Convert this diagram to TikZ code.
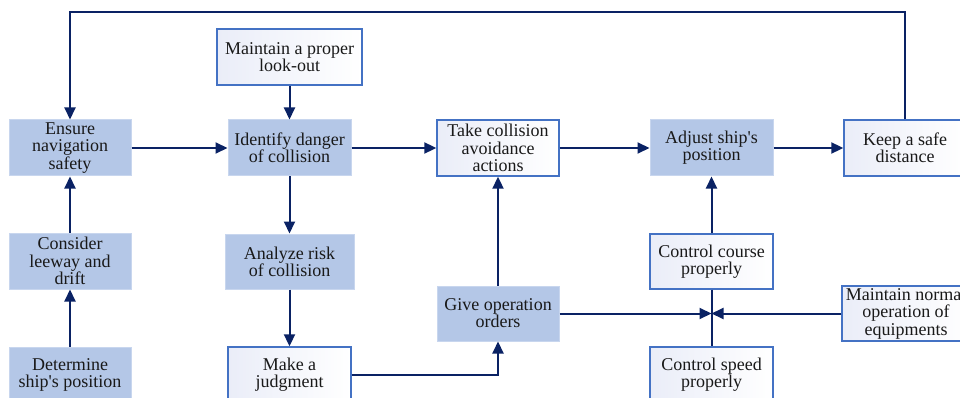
\documentclass[tikz,border=0pt]{standalone}
\usepackage{fontspec}
\newfontfamily\myserif{Liberation Serif}
\usetikzlibrary{arrows.meta}
\definecolor{boxfill}{RGB}{180,199,231}
\definecolor{boxedge}{RGB}{200,214,238}
\definecolor{wedge}{RGB}{68,114,196}
\definecolor{wshade}{RGB}{234,237,248}
\definecolor{navy}{RGB}{10,34,100}
\tikzset{
  base/.style={inner sep=0pt, align=center, minimum height=56pt,
    font=\myserif\fontsize{18}{17.2}\selectfont, text=black!90},
  filledbox/.style={base, draw=boxedge, line width=1pt, fill=boxfill},
  whitebox/.style={base, draw=wedge, line width=1.4pt, left color=wshade, right color=white},
  arr/.style={draw=navy, line width=2pt, -{Triangle[length=12pt,width=11pt]}},
  ln/.style={draw=navy, line width=2pt},
}
\begin{document}
\begin{tikzpicture}[x=1pt,y=-1pt]
\useasboundingbox (0,0) rectangle (960,398);
\clip (0,0) rectangle (960,398);
\fill[white] (0,0) rectangle (960,398);
\coordinate (top) at (0,12);
% left column
\node[filledbox, minimum width=122pt] (ensure) at (70,148) {Ensure\\navigation\\safety};
\node[filledbox, minimum width=122pt] (consider) at (70,261) {Consider\\leeway and\\drift};
\node[filledbox, minimum width=122pt] (determine) at (70,375) {Determine\\ship's position};
% second column
\node[whitebox, minimum width=145pt] (lookout) at (289.5,57) {Maintain a proper\\look-out};
\node[filledbox, minimum width=123pt] (identify) at (289.5,148) {Identify danger\\of collision};
\node[filledbox, minimum width=129pt, minimum height=55pt] (analyze) at (289.5,261.5) {Analyze risk\\of collision};
\node[whitebox, minimum width=123pt] (judgment) at (289.5,375) {Make a\\judgment};
% third column
\node[whitebox, minimum width=122pt] (take) at (498,148) {Take collision\\avoidance\\actions};
\node[filledbox, minimum width=122pt, minimum height=55pt] (giveop) at (498,313.5) {Give operation\\orders};
% fourth column
\node[filledbox, minimum width=123pt] (adjust) at (711.5,148) {Adjust ship's\\position};
\node[whitebox, minimum width=123pt, minimum height=55pt] (course) at (711.5,261.5) {Control course\\properly};
\node[whitebox, minimum width=123pt] (speed) at (711.5,375) {Control speed\\properly};
% fifth column
\node[whitebox, minimum width=122pt] (keep) at (905,148) {Keep a safe\\distance};
\node[whitebox, minimum width=128pt, minimum height=55pt] (maintain) at (906,313.5) {Maintain normal\\operation of\\equipments};
\coordinate (j) at (711.5,313.5);
% connectors
\draw[arr] (keep.north) -- (keep.north |- top) -| (ensure.north);
\draw[arr] (ensure.east) -- (identify.west);
\draw[arr] (lookout.south) -- (identify.north);
\draw[arr] (identify.east) -- (take.west);
\draw[arr] (take.east) -- (adjust.west);
\draw[arr] (adjust.east) -- (keep.west);
\draw[arr] (consider.north) -- (ensure.south);
\draw[arr] (determine.north) -- (consider.south);
\draw[arr] (identify.south) -- (analyze.north);
\draw[arr] (analyze.south) -- (judgment.north);
\draw[arr] (judgment.east) -| (giveop.south);
\draw[arr] (giveop.north) -- (take.south);
\draw[arr] (course.north) -- (adjust.south);
\draw[ln] (course.south) -- (speed.north);
\draw[arr] (giveop.east) -- (j);
\draw[arr] (maintain.west) -- (j);
\end{tikzpicture}
\end{document}
